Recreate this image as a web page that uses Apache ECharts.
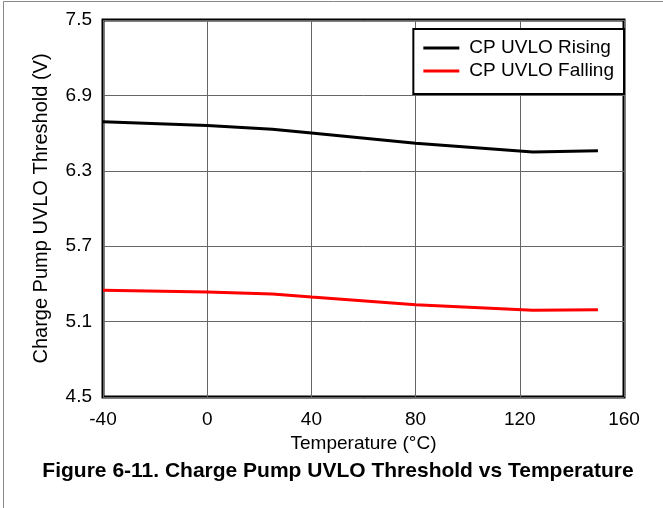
<!DOCTYPE html>
<html>
<head>
<meta charset="utf-8">
<script src="https://cdn.jsdelivr.net/npm/echarts@6/dist/echarts.min.js"></script>
<style>
  html, body { margin: 0; padding: 0; background: #fff; }
  #chart { width: 663px; height: 508px; }
</style>
</head>
<body>
<div id="chart"></div>
<script>
// temperatures (°C)
var temps = [-40, 0, 25, 40, 80, 125, 150];
var rising = [6.69, 6.66, 6.63, 6.60, 6.52, 6.45, 6.46];
var falling = [5.35, 5.335, 5.32, 5.295, 5.235, 5.19, 5.195];
var seriesNames = ['CP UVLO Rising', 'CP UVLO Falling'];

function pairs(xs, ys) {
    var out = [];
    for (var i = 0; i < xs.length; i++) out.push([xs[i], ys[i]]);
    return out;
}

var chart = echarts.init(document.getElementById('chart'));
var fnt = 'Liberation Sans, Arial, sans-serif';

chart.setOption({
    animation: false,
    grid: {
        left: 103, right: 39, top: 20, bottom: 111,
        show: true, borderColor: '#000', borderWidth: 3
    },
    xAxis: {
        type: 'value', min: -40, max: 160, interval: 40,
        name: 'Temperature (°C)', nameLocation: 'middle', nameGap: 36,
        nameTextStyle: { color: '#000', fontSize: 19, fontFamily: fnt },
        axisLine: { show: false }, axisTick: { show: false },
        axisLabel: { color: '#000', fontSize: 19, fontFamily: fnt, margin: 13 },
        splitLine: { lineStyle: { color: '#666', width: 1 } }
    },
    yAxis: {
        type: 'value', min: 4.5, max: 7.5, interval: 0.6,
        name: 'Charge Pump UVLO Threshold (V)', nameLocation: 'middle', nameGap: 52,
        nameTextStyle: { color: '#000', fontSize: 20, fontFamily: fnt },
        axisLine: { show: false }, axisTick: { show: false },
        axisLabel: {
            color: '#000', fontSize: 19, fontFamily: fnt, margin: 11,
            formatter: function (v) { return v.toFixed(1); }
        },
        splitLine: { lineStyle: { color: '#666', width: 1 } }
    },
    legend: {
        orient: 'vertical', right: 39, top: 29,
        backgroundColor: '#fff', borderColor: '#000', borderWidth: 2,
        padding: [9, 10, 13, 10], itemGap: 3,
        itemWidth: 36, itemHeight: 3, icon: 'rect',
        textStyle: { color: '#000', fontSize: 19, fontFamily: fnt, lineHeight: 20, padding: [0, 0, 0, 5] },
        data: seriesNames
    },
    series: [
        {
            name: seriesNames[0], type: 'line', data: pairs(temps, rising),
            showSymbol: false, lineStyle: { color: '#000', width: 3 }, itemStyle: { color: '#000' }
        },
        {
            name: seriesNames[1], type: 'line', data: pairs(temps, falling),
            showSymbol: false, lineStyle: { color: '#ff0000', width: 3 }, itemStyle: { color: '#ff0000' }
        }
    ],
    graphic: [
        {
            type: 'rect', shape: { x: 3.5, y: 1.5, width: 700, height: 600 },
            style: { fill: null, stroke: '#888', lineWidth: 1 }, silent: true
        },
        {
            type: 'text', x: 338, y: 471,
            style: {
                text: 'Figure 6-11. Charge Pump UVLO Threshold vs Temperature',
                fill: '#000', font: 'bold 21px ' + fnt,
                textAlign: 'center', textVerticalAlign: 'middle'
            }
        }
    ]
});
</script>
</body>
</html>
